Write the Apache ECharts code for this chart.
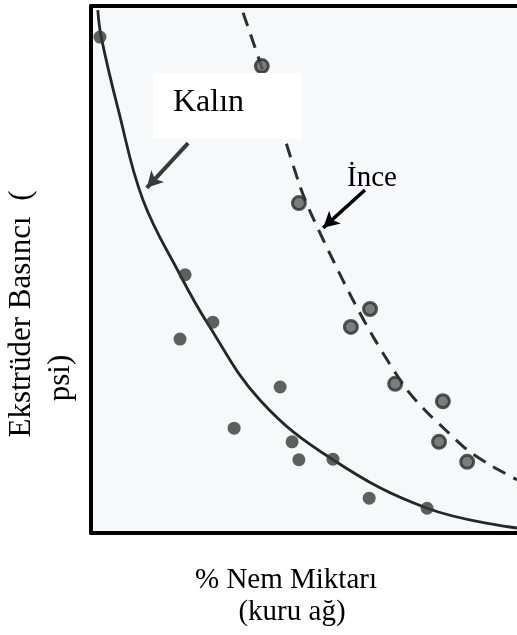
<!DOCTYPE html>
<html><head><meta charset="utf-8">
<script src="https://cdn.jsdelivr.net/npm/echarts@6/dist/echarts.min.js"></script>
<style>html,body{margin:0;padding:0;background:#fff}#c{width:517px;height:635px}</style>
</head><body><div id="c"></div>
<script>
// Relative units (x: % moisture, y: extruder pressure; no tick labels shown)
const kalinPoints = [[2.1,94.1],[22.1,49.0],[28.6,40.0],[20.9,36.8],[44.4,27.7],[33.6,19.9],[47.2,17.3],[48.8,13.9],[56.8,14.0],[65.3,6.6],[78.9,4.7]];
const incePoints = [[40.1,88.6],[48.8,62.6],[65.5,42.5],[61.0,39.1],[71.4,28.3],[82.6,25.0],[81.7,17.3],[88.3,13.5]];
const kalinCurve = [[1.6,99.2],[2.4,94.1],[6.5,80.0],[12.2,63.2],[20.9,49.0],[27.2,40.0],[39.7,25.2],[56.8,13.9],[78.9,4.7],[100,0.95]];
const inceCurve = [[35.7,98.7],[39.9,88.8],[44.1,78.4],[49.1,65.7],[51.6,60.7],[56.8,51.8],[61.5,44.2],[66.7,36.6],[73.7,27.7],[78.4,23.3],[83.3,19.5],[88.3,15.8],[93.7,12.9],[100,10.1]];
const kalinArrow = [[22.8,74.0],[13.1,65.5]];
const inceArrow = [[64.3,65.1],[54.5,57.9]];
const labels = {kalin:'Kalın', ince:'İnce', yLine1:'Ekstrüder Basıncı  (', yLine2:'psi)', xLine1:'% Nem Miktarı', xLine2:'(kuru ağ)'};

const chart = echarts.init(document.getElementById('c'), null, {renderer:'canvas'});
const serif = 'Liberation Serif';
const axisCommon = {type:'value', min:0, max:100, axisLabel:{show:false}, axisTick:{show:false}, splitLine:{show:false},
  axisLine:{show:true, onZero:false, lineStyle:{color:'#000', width:4}}};
function txt(t, size, extra){ return Object.assign({text:t, fontSize:size, fontFamily:serif, fill:'#000'}, extra||{}); }
chart.setOption({
  animation:false,
  backgroundColor:'#fff',
  textStyle:{fontFamily:serif},
  grid:{left:91, right:0, top:6, bottom:102, show:true, borderWidth:0, backgroundColor:'#f6f8fa'},
  xAxis:[Object.assign({position:'bottom'}, axisCommon), Object.assign({position:'top'}, axisCommon)],
  yAxis:[Object.assign({position:'left'}, axisCommon)],
  graphic:[
    {type:'rect', left:153, top:73, shape:{width:149, height:66}, style:{fill:'#fff'}, z:10},
    {type:'text', x:173, y:103, style:txt(labels.kalin, 32, {verticalAlign:'middle'}), z:11},
    {type:'text', x:347, y:178, style:txt(labels.ince, 29, {verticalAlign:'middle'}), z:11},
    {type:'text', x:22, y:314, rotation:Math.PI/2, style:txt(labels.yLine1, 31, {align:'center', verticalAlign:'middle'})},
    {type:'text', x:61, y:378, rotation:Math.PI/2, style:txt(labels.yLine2, 31, {align:'center', verticalAlign:'middle'})},
    {type:'text', x:286, y:580, style:txt(labels.xLine1, 29, {align:'center', verticalAlign:'middle'})},
    {type:'text', x:292, y:612, style:txt(labels.xLine2, 29, {align:'center', verticalAlign:'middle'})}
  ],
  series:[
    {type:'line', data:kalinCurve, smooth:0.4, showSymbol:false, lineStyle:{color:'#262626', width:2.8}, z:3,
     markLine:{silent:true, symbol:['none','arrow'], symbolSize:[13,16], label:{show:false},
       lineStyle:{color:'#3a3a3a', width:4, type:'solid'},
       data:[[{coord:kalinArrow[0]},{coord:kalinArrow[1]}]]}},
    {type:'line', data:inceCurve, smooth:0.3, showSymbol:false, lineStyle:{color:'#2e2e2e', width:3, type:[14,9]}, z:3,
     markLine:{silent:true, symbol:['none','arrow'], symbolSize:[13,16], label:{show:false},
       lineStyle:{color:'#000', width:3.5, type:'solid'},
       data:[[{coord:inceArrow[0]},{coord:inceArrow[1]}]]}},
    {type:'scatter', data:kalinPoints, symbolSize:13, itemStyle:{color:'#383838'}, z:4},
    {type:'scatter', data:incePoints, symbolSize:13, itemStyle:{color:'#5c5c5c', borderColor:'#2e2e2e', borderWidth:3}, z:4}
  ]
});
</script></body></html>
